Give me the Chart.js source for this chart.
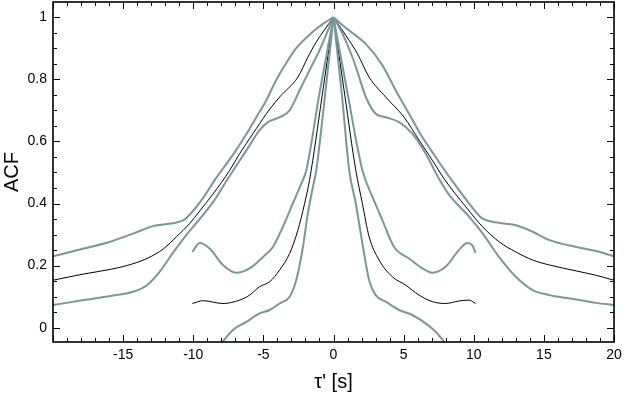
<!DOCTYPE html>
<html>
<head>
<meta charset="utf-8">
<script src="https://cdn.jsdelivr.net/npm/chart.js@4.4.1/dist/chart.umd.min.js"></script>
<style>
  html, body { margin: 0; padding: 0; background: #fff; }
  canvas { display: block; }
</style>
</head>
<body>
<canvas id="c" width="625" height="394"></canvas>
<script>
// ---- Axis ticks ----
const xTickValues = [-15, -10, -5, 0, 5, 10, 15, 20];
const yTickValues = [0, 0.2, 0.4, 0.6, 0.8, 1];
const yTickLabels = ['0', '0.2', '0.4', '0.6', '0.8', '1'];

// ---- Wide curves (tau' from -20 to 20) ----
const wideUpperX = [-20, -17.8, -15.9, -14.3, -12.8, -11.2, -10.6, -9.5, -8.4, -7.2, -6.2, -5.5, -4.8, -4.1, -3.4, -2.7, -1.5, -0.7, 0, 0.5, 1.12, 2.3, 3.49, 4.44, 5.39, 6.33, 7.28, 8.35, 9.68, 10.6, 11.34, 13.0, 14.2, 15.4, 17.3, 18.7, 20];
const wideUpperY = [0.23, 0.255, 0.277, 0.303, 0.328, 0.339, 0.349, 0.405, 0.48, 0.555, 0.625, 0.678, 0.732, 0.796, 0.85, 0.898, 0.952, 0.98, 1, 0.98, 0.957, 0.914, 0.845, 0.764, 0.689, 0.614, 0.55, 0.48, 0.40, 0.352, 0.341, 0.33, 0.309, 0.282, 0.26, 0.247, 0.23];

const wideMidX = [-20, -17.8, -15.9, -14.75, -13.3, -12.1, -11.2, -10.25, -9.5, -8.6, -7.4, -6.69, -5.74, -4.79, -3.84, -2.54, -1.83, -1.23, 0, 1.12, 1.71, 2.54, 3.72, 5.03, 6.1, 7.05, 7.88, 9.44, 10.63, 11.8, 13.0, 14.2, 15.4, 17.3, 18.7, 20];
const wideMidY = [0.153, 0.173, 0.188, 0.20, 0.223, 0.255, 0.293, 0.336, 0.378, 0.43, 0.507, 0.561, 0.625, 0.689, 0.743, 0.807, 0.871, 0.92, 1, 0.925, 0.882, 0.807, 0.743, 0.678, 0.604, 0.539, 0.48, 0.389, 0.325, 0.277, 0.244, 0.218, 0.202, 0.183, 0.169, 0.153];

const wideLowerX = [-20, -17.8, -15.9, -14.3, -13.3, -12.4, -11.4, -10.5, -9.5, -8.5, -7.6, -6.21, -5.27, -4.68, -3.84, -3.13, -2.42, -1.71, -1.0, 0, 0.64, 1.35, 1.83, 2.3, 3.01, 3.72, 4.68, 5.62, 6.57, 7.52, 8.26, 9.68, 10.63, 11.8, 13.0, 14.2, 15.4, 17.3, 18.7, 20];
const wideLowerY = [0.073, 0.089, 0.102, 0.116, 0.137, 0.18, 0.244, 0.298, 0.352, 0.41, 0.475, 0.571, 0.636, 0.662, 0.678, 0.70, 0.764, 0.829, 0.893, 1, 0.947, 0.871, 0.807, 0.743, 0.689, 0.678, 0.662, 0.625, 0.561, 0.48, 0.427, 0.357, 0.304, 0.228, 0.164, 0.121, 0.105, 0.091, 0.08, 0.073];

// ---- Narrow curves (tau' from -10 to 10) ----
const narrowUpperX = [-10.06, -9.54, -8.83, -7.88, -6.93, -5.98, -5.03, -4.32, -3.61, -2.9, -2.3, -1.94, -1.0, 0, 1.0, 2.06, 2.78, 3.49, 4.32, 5.39, 6.33, 7.05, 7.99, 8.94, 9.54, 9.89, 10.13];
const narrowUpperY = [0.244, 0.273, 0.255, 0.202, 0.177, 0.191, 0.228, 0.26, 0.325, 0.40, 0.464, 0.507, 0.755, 1, 0.755, 0.507, 0.421, 0.346, 0.26, 0.223, 0.191, 0.177, 0.196, 0.25, 0.273, 0.266, 0.241];

const narrowMidX = [-10.06, -9.3, -7.88, -6.69, -5.98, -5.27, -4.55, -3.84, -3.13, -2.54, -2.06, -1.71, -0.8, 0, 0.8, 1.59, 2.06, 2.54, 3.25, 4.2, 5.15, 6.1, 7.05, 7.99, 8.94, 9.66, 10.13];
const narrowMidY = [0.078, 0.087, 0.078, 0.089, 0.105, 0.132, 0.148, 0.186, 0.239, 0.314, 0.40, 0.475, 0.75, 1, 0.75, 0.507, 0.40, 0.293, 0.218, 0.164, 0.137, 0.105, 0.084, 0.078, 0.086, 0.089, 0.078];

const narrowLowerX = [-8.0, -7.17, -6.21, -5.27, -4.55, -3.84, -3.13, -2.66, -2.18, -1.83, -1.47, -1.23, -0.6, 0, 0.6, 1.12, 1.59, 2.18, 2.54, 3.01, 3.72, 4.68, 5.62, 6.57, 7.28, 7.99];
const narrowLowerY = [-0.05, -0.007, 0.019, 0.046, 0.057, 0.078, 0.10, 0.153, 0.26, 0.368, 0.453, 0.507, 0.75, 1, 0.75, 0.507, 0.40, 0.239, 0.153, 0.105, 0.084, 0.057, 0.041, 0.014, -0.013, -0.05];

const GRAY = '#7b969c';
const BLACK = '#000000';

// Split each curve at the peak (tau'=0) so the cusp stays sharp
function halves(xs, ys, color, width) {
  const left = [], right = [];
  xs.forEach((x, i) => {
    if (x <= 0) left.push({x: x, y: ys[i]});
    if (x >= 0) right.push({x: x, y: ys[i]});
  });
  const base = {
    borderColor: color, borderWidth: width, pointRadius: 0,
    fill: false, showLine: true, cubicInterpolationMode: 'monotone'
  };
  return [Object.assign({data: left}, base), Object.assign({data: right}, base)];
}

const datasets = [].concat(
  halves(wideUpperX, wideUpperY, GRAY, 2),
  halves(wideLowerX, wideLowerY, GRAY, 2),
  halves(narrowUpperX, narrowUpperY, GRAY, 2),
  halves(narrowLowerX, narrowLowerY, GRAY, 2),
  halves(wideMidX, wideMidY, BLACK, 1),
  halves(narrowMidX, narrowMidY, BLACK, 1)
);

const frameTicks = {
  id: 'frameTicks',
  afterDatasetsDraw(chart) {
    const {ctx, chartArea: a, scales: {x, y}} = chart;
    ctx.save();
    ctx.strokeStyle = '#000';
    ctx.lineWidth = 1;
    ctx.beginPath();
    for (let v = -20; v <= 20; v += 1) {
      const px = Math.round(x.getPixelForValue(v)) + 0.5;
      const L = (v % 5 === 0) ? 7 : 4;
      ctx.moveTo(px, a.bottom); ctx.lineTo(px, a.bottom - L);
      ctx.moveTo(px, a.top); ctx.lineTo(px, a.top + L);
    }
    for (let i = -2; i <= 22; i++) {
      const v = i * 0.05;
      if (v < y.min || v > y.max) continue;
      const py = Math.round(y.getPixelForValue(v)) + 0.5;
      const L = (i % 4 === 0) ? 7 : 4;
      ctx.moveTo(a.left, py); ctx.lineTo(a.left + L, py);
      ctx.moveTo(a.right, py); ctx.lineTo(a.right - L, py);
    }
    ctx.stroke();
    ctx.lineWidth = 1.6;
    ctx.strokeRect(a.left, a.top, a.right - a.left, a.bottom - a.top);
    ctx.restore();
  }
};

Chart.defaults.font.family = "'Liberation Sans', Arial, sans-serif";
Chart.defaults.color = '#000';

new Chart(document.getElementById('c'), {
  type: 'line',
  data: { datasets: datasets },
  plugins: [frameTicks],
  options: {
    responsive: false,
    animation: false,
    devicePixelRatio: 1,
    layout: { padding: { top: 2, right: 11, left: 0, bottom: 0 } },
    plugins: { legend: { display: false }, tooltip: { enabled: false } },
    scales: {
      x: {
        type: 'linear', min: -20, max: 20,
        grid: { display: false, drawTicks: false },
        border: { display: false },
        afterBuildTicks: s => { s.ticks = xTickValues.map(v => ({value: v})); },
        afterFit: s => { s.height = 52; s.paddingLeft = 0; s.paddingRight = 0; },
        ticks: { padding: 5, maxRotation: 0, autoSkip: false, font: { size: 14 }, color: '#000',
                 callback: v => String(v) },
        title: { display: true, text: "τ' [s]", font: { size: 20 }, color: '#000', padding: { top: 0, bottom: 0 } }
      },
      y: {
        type: 'linear', min: -0.046, max: 1.049,
        grid: { display: false, drawTicks: false },
        border: { display: false },
        afterBuildTicks: s => { s.ticks = yTickValues.map(v => ({value: v})); },
        afterFit: s => { s.width = 53; s.paddingTop = 0; s.paddingBottom = 0; },
        ticks: { padding: 6, autoSkip: false, font: { size: 14 }, color: '#000',
                 callback: (v, i) => yTickLabels[i] },
        title: { display: true, text: 'ACF', font: { size: 20 }, color: '#000', padding: { top: 0, bottom: 0 } }
      }
    }
  }
});
</script>
</body>
</html>
